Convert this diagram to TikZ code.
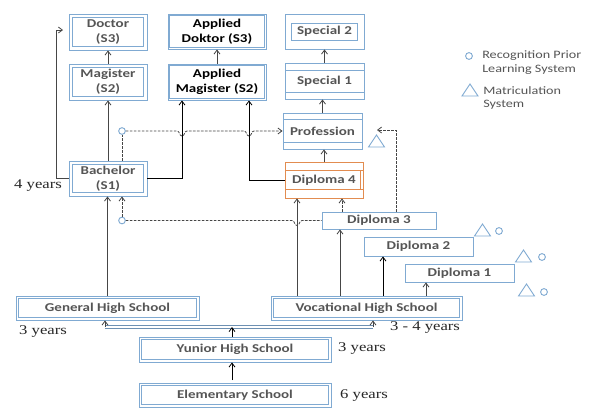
\documentclass[tikz,border=0pt]{standalone}
\usepackage{fontspec}
\usetikzlibrary{arrows.meta,fit,calc}
\newfontfamily\boxfont[FakeStretch=1.25]{Carlito}
\newfontfamily\yrfont[FakeStretch=1.25]{Liberation Serif}
\definecolor{boxblue}{RGB}{128,170,210}
\definecolor{orangeb}{RGB}{226,140,80}
\definecolor{txtgrey}{RGB}{85,85,85}
\definecolor{lngrey}{RGB}{70,70,70}
\tikzset{
  bbox/.style={draw=boxblue, line width=0.7pt, inner sep=0pt},
  btxt/.style={inner sep=0pt, align=center,
    font=\boxfont\bfseries\fontsize{9}{11}\selectfont, text=txtgrey},
  arr/.style={-{Straight Barb[length=3pt,width=4.5pt]}, line width=0.6pt, draw=lngrey},
  dsh/.style={line width=0.6pt, draw=lngrey, dash pattern=on 2pt off 1pt},
  dsharr/.style={dsh, -{Straight Barb[length=3pt,width=4.5pt]}},
  blueln/.style={draw=boxblue, line width=0.7pt},
  rplc/.style={circle, draw=boxblue, line width=0.7pt, fill=white, minimum size=5pt, inner sep=0pt},
  yrs/.style={font=\yrfont\fontsize{10}{12}\selectfont, text=black!85, inner sep=0pt},
  legend/.style={font=\boxfont\fontsize{8.5}{10}\selectfont, text=txtgrey, align=left, inner sep=0pt, anchor=west},
}
% [text opts] name, x1,y1,x2,y2, inset, text
\newcommand\dbox[8][]{%
  \node[bbox,fit={(#3,#4)(#5,#6)}] (#2) {};
  \draw[blueln] (#3+#7,#4+#7) rectangle (#5-#7,#6-#7);
  \node[btxt,#1] (#2-t) at (#2.center) {#8};
}
\newcommand\plainbox[7][]{% [box opts] name x1 y1 x2 y2 text
  \node[bbox,#1,fit={(#3,#4)(#5,#6)}] (#2) {};
  \node[btxt] (#2-t) at (#2.center) {#7};
}
\newcommand\tri[2]{\draw[blueln] (#1-8,#2+6) -- (#1,#2-6) -- (#1+8,#2+6) -- cycle;}
\begin{document}
\begin{tikzpicture}[x=0.75pt,y=-0.75pt]
\useasboundingbox[fill=white] (0,0) rectangle (590,408);

% university column
\dbox{doctor}{69}{14}{147}{50}{3.5}{Doctor\\(S3)}
\dbox{magister}{69}{64}{147}{100}{3.5}{Magister\\(S2)}
\dbox{bachelor}{69}{161}{147}{196}{3.5}{Bachelor\\(S1)}
\dbox[text=black]{appldok}{168}{14}{266}{49}{1.8}{Applied\\Doktor (S3)}
\dbox[text=black]{applmag}{168}{64}{266}{100}{1.8}{Applied\\Magister (S2)}

% professional column
\plainbox{special2}{285}{14}{364}{49}{Special 2}
\draw[blueln] (291,23) rectangle (357,40);
\plainbox{special1}{285}{63}{364}{99}{Special 1}
\draw[blueln] (285,70) -- (364,70) (285,92) -- (364,92);
\plainbox{profession}{283}{113}{362}{149}{Profession}
\draw[blueln] (283,119) -- (362,119) (283,142) -- (362,142);
\plainbox[draw=orangeb]{diploma4}{285}{162}{363}{198}{Diploma 4}
\draw[draw=orangeb, line width=0.7pt] (285,170) -- (363,170) (285,189) -- (363,189) (360,170) -- (360,189);
\plainbox{diploma3}{322}{212}{436}{229}{Diploma 3}
\plainbox{diploma2}{364}{237}{473}{256}{Diploma 2}
\plainbox{diploma1}{405}{264}{514}{282}{Diploma 1}

% schools
\dbox{general}{16}{296}{199}{320}{2.5}{General High School}
\dbox{vocational}{271}{296}{462}{320}{2.5}{Vocational High School}
\dbox{yunior}{139}{337}{331}{362}{2.5}{Yunior High School}
\dbox{elementary}{139}{383}{331}{407}{2.5}{Elementary School}

% year labels
\node[yrs] (y4) at (38,186) {4 years};
\node[yrs] (y3a) at (43,332) {3 years};
\node[yrs] (y34) at (425,328) {3 - 4 years};
\node[yrs] (y3b) at (362,349) {3 years};
\node[yrs] (y6) at (364,396) {6 years};

% helper coordinates
\coordinate (x182) at (182,0);
\coordinate (x232) at (232,0);
\coordinate (x249) at (249,0);
\coordinate (x297) at (297,0);
\coordinate (x340) at (340,0);
\coordinate (x342) at (342,0);
\coordinate (x383) at (383,0);
\coordinate (x396) at (396,0);
\coordinate (x426) at (426,0);
\coordinate (doc4) at (63,30);
\coordinate (profin) at (377,130);
\coordinate (elemtop) at (232,380);

% university connectors
\draw[arr] (bachelor.west) -- ++(-12,0) |- (doc4);
\draw[arr] (magister.north) -- (doctor.south);
\draw[arr] (bachelor.north) -- (magister.south);
\draw[arr] (general.north) -- (general.north |- bachelor.south);
\draw[arr] (applmag.north) -- (appldok.south);
\draw[arr, draw=black] (bachelor.east) -| (applmag.south -| x182);
\draw[arr, draw=black] (diploma4.west) -| (applmag.south -| x249);
\draw[arr] (diploma4.north) -- (diploma4.north |- profession.south);
\draw[arr] (profession.north) -- (profession.north |- special1.south);
\draw[arr] (special1.north) -- (special1.north |- special2.south);

% vocational connectors
\draw[arr] (vocational.north -| x297) -- (diploma4.south -| x297);
\draw[arr] (vocational.north -| x340) -- (diploma3.south -| x340);
\draw[arr, draw=black] (vocational.north -| x383) -- (diploma2.south -| x383);
\draw[arr] (vocational.north -| x426) -- (diploma1.south -| x426);
\draw[dsharr] (diploma3.north -| x342) -- (diploma4.south -| x342);
\draw[dsharr] (diploma3.north -| x396) |- (profin);

% recognition prior learning lines
\node[rplc] (rpla) at (122,131) {};
\node[rplc] (rplb) at (122,220.5) {};
\draw[dsh] (bachelor.north -| rpla) -- (rpla.south);
\draw[dsharr] (rpla.east) -- (177,131)
  .. controls (180,131) and (179,136) .. (182,136)
  .. controls (185,136) and (184,131) .. (187,131) -- (244,131)
  .. controls (247,131) and (246,136) .. (249,136)
  .. controls (252,136) and (251,131) .. (254,131) -- (profession.west);
\draw[dsharr] (rplb.north) -- (bachelor.south -| rplb);
\draw[dsh] (rplb.east) -- (292,220.5)
  .. controls (295,220.5) and (294,225.5) .. (297,225.5)
  .. controls (300,225.5) and (299,220.5) .. (302,220.5) -- (diploma3.west);

% school connectors
\coordinate (bl) at (105,327);
\coordinate (br) at (373,327);
\draw[draw=boxblue!85!black, line width=0.6pt, double=white, double distance=1.2pt] (bl) -- (br);
\draw[arr] (bl) -- (general.south -| bl);
\draw[arr] (br) -- (vocational.south -| br);
\draw[arr, draw=black] (yunior.north -| x232) -- (bl -| x232);
\draw[arr, draw=black] (elemtop) -- (yunior.south -| x232);

% matriculation / recognition marks
\tri{376.5}{141}
\tri{482.5}{230}
\draw[blueln] (499,231) circle[radius=3.4];
\tri{523.5}{256}
\draw[blueln] (542,257) circle[radius=3.4];
\tri{526.5}{290}
\draw[blueln] (544,292) circle[radius=3.4];

% legend
\draw[blueln] (469,56) circle[radius=3.4];
\node[legend] (leg1) at (482,62.5) {Recognition Prior\\Learning System};
\tri{470}{90}
\node[legend] (leg2) at (483,98) {Matriculation\\System};
\end{tikzpicture}
\end{document}
